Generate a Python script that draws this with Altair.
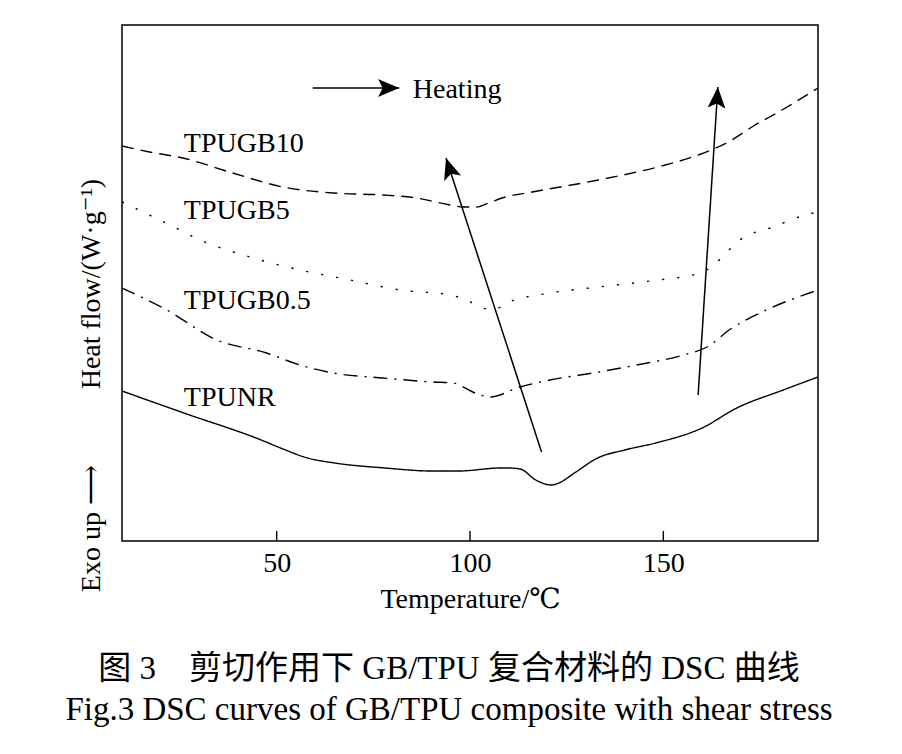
import math
import altair as alt
import pandas as pd

# ---------------- data ----------------
SERIES = ["TPUNR", "TPUGB0.5", "TPUGB5", "TPUGB10"]

T_NR = [10, 26, 46, 51, 58, 65, 78, 90, 97, 108, 110, 113, 117, 121, 123, 127, 133, 140, 148, 160, 169, 181, 190]
H_NR = [150, 128, 101, 93, 83, 78, 73, 70, 70, 73, 73, 72, 61, 56, 58, 68, 83, 91, 98, 113, 133, 151, 164]

T_05 = [10, 21.6, 34.5, 47.4, 56, 64.6, 77.5, 90.4, 95.6, 101.3, 105.2, 112.9, 120.7, 131.8, 143.1, 155.2, 161.3, 167.4, 175, 190]
H_05 = [253, 231, 201, 188, 176, 168, 163, 159, 158, 148, 144, 154, 161, 168, 176, 186, 194, 212, 228, 251]

T_5 = [10, 22.4, 30.2, 43.1, 56, 69, 81.9, 94.8, 99.1, 102.6, 106, 109.5, 120.7, 133.2, 146.5, 159.5, 162.8, 166.4, 169.8, 178.4, 186.7, 190]
H_5 = [339, 316, 301, 284, 271, 261, 251, 246, 241, 234, 231, 238, 248, 254, 260, 268, 275, 289, 301, 314, 326, 329]

T_10 = [10, 17.1, 25.7, 38.6, 51.6, 64.6, 77.5, 86.2, 94.8, 98.2, 101.6, 104.8, 108.3, 116.1, 133.2, 150.5, 159, 167.7, 172.9, 180.7, 190]
H_10 = [395, 389, 383, 368, 354, 348, 346, 343, 336, 334, 334, 338, 343, 349, 361, 376, 386, 401, 414, 431, 453]

LABELS = ["TPUGB10", "TPUGB5", "TPUGB0.5", "TPUNR"]
LABEL_T = [26, 26, 26, 26]
LABEL_H = [389, 322, 232, 135]

ARROW_NAMES = ["heating", "a1", "a2"]
ARROW_T0 = [59.3, 118.5, 159.0]
ARROW_H0 = [453, 89, 146]
ARROW_T1 = [81.7, 93.8, 164.1]
ARROW_H1 = [453, 383, 454]

HEATING_TEXT = "Heating"
HEATING_T = [85.2]
HEATING_H = [443]

X_TICKS = [50, 100, 150]
X_DOMAIN = [10, 190]
Y_DOMAIN = [0, 516]

X_TITLE = "Temperature/\u2103"
Y_TITLE = "Exo up \u27f6\u2003\u2003\u2002\u2009Heat flow/(W\u00b7g\u207b\u00b9)"
CAPTION_CN = "图 3\u3000剪切作用下 GB/TPU 复合材料的 DSC 曲线"
CAPTION_EN = "Fig.3 DSC curves of GB/TPU composite with shear stress"

# ---------------- layout / style ----------------
W, H = 696, 516
FONT = "Liberation Serif, Times New Roman, DejaVu Serif, Noto Sans CJK SC"
DASHES = [[1, 0], [14, 7, 2, 7], [2.2, 13], [12, 7]]
WIDTHS = [1.4, 1.4, 2.2, 1.4]

curves = pd.concat([
    pd.DataFrame({"series": s, "T": t, "H": h})
    for s, t, h in zip(SERIES, [T_NR, T_05, T_5, T_10], [H_NR, H_05, H_5, H_10])
])

kx = W / (X_DOMAIN[1] - X_DOMAIN[0])
ky = H / (Y_DOMAIN[1] - Y_DOMAIN[0])
angles = []
for t0, h0, t1, h1 in zip(ARROW_T0, ARROW_H0, ARROW_T1, ARROW_H1):
    a = math.degrees(math.atan2((t1 - t0) * kx, (h1 - h0) * ky)) % 360
    angles.append(a)
arrows = pd.DataFrame({"name": ARROW_NAMES, "T0": ARROW_T0, "H0": ARROW_H0,
                       "T1": ARROW_T1, "H1": ARROW_H1, "angle": angles})

xs = alt.Scale(domain=X_DOMAIN, nice=False, zero=False)
ys = alt.Scale(domain=Y_DOMAIN, nice=False, zero=False)

x_axis = alt.Axis(values=X_TICKS, ticks=False, domain=False, grid=False,
                  labelFont=FONT, labelFontSize=28, labelColor="black", labelPadding=8,
                  title=X_TITLE, titleFont=FONT, titleFontSize=28, titleFontWeight="normal",
                  titleColor="black", titlePadding=8)
y_axis = alt.Axis(labels=False, ticks=False, domain=False, grid=False,
                  title=Y_TITLE, titleFont=FONT, titleFontSize=28, titleFontWeight="normal",
                  titleColor="black", titleAngle=270, titleX=-31, titleY=360,
                  titleAlign="center", titleBaseline="middle")

lines = alt.Chart(curves).mark_line(color="black", interpolate="monotone").encode(
    x=alt.X("T:Q", scale=xs, axis=x_axis),
    y=alt.Y("H:Q", scale=ys, axis=y_axis),
    strokeDash=alt.StrokeDash("series:N", scale=alt.Scale(domain=SERIES, range=DASHES), legend=None),
    strokeWidth=alt.StrokeWidth("series:N", scale=alt.Scale(domain=SERIES, range=WIDTHS), legend=None),
    detail="series:N",
)

ticks = alt.Chart(pd.DataFrame({"T": X_TICKS})).mark_rule(color="black", strokeWidth=1.4).encode(
    x=alt.X("T:Q", scale=xs), y=alt.value(H), y2=alt.value(H - 10)
)

labels = alt.Chart(pd.DataFrame({"T": LABEL_T, "H": LABEL_H, "label": LABELS})).mark_text(
    align="left", baseline="alphabetic", font=FONT, fontSize=28, color="black"
).encode(x=alt.X("T:Q", scale=xs), y=alt.Y("H:Q", scale=ys), text="label:N")

heat_text = alt.Chart(pd.DataFrame({"T": HEATING_T, "H": HEATING_H, "label": [HEATING_TEXT]})).mark_text(
    align="left", baseline="alphabetic", font=FONT, fontSize=28, color="black"
).encode(x=alt.X("T:Q", scale=xs), y=alt.Y("H:Q", scale=ys), text="label:N")

shafts = alt.Chart(arrows).mark_rule(color="black", strokeWidth=1.5).encode(
    x=alt.X("T0:Q", scale=xs), y=alt.Y("H0:Q", scale=ys), x2="T1:Q", y2="H1:Q"
)
heads = alt.Chart(arrows).mark_point(
    shape="M0,0 L0.42,1 L0,0.78 L-0.42,1 Z", filled=True, color="black", opacity=1, size=1800
).encode(x=alt.X("T1:Q", scale=xs), y=alt.Y("H1:Q", scale=ys), angle=alt.Angle("angle:Q", scale=None))

cap1 = alt.Chart(pd.DataFrame({"label": [CAPTION_CN]})).mark_text(
    align="center", baseline="alphabetic", font=FONT, fontSize=33, color="black"
).encode(x=alt.value(327), y=alt.value(654), text="label:N")
cap2 = alt.Chart(pd.DataFrame({"label": [CAPTION_EN]})).mark_text(
    align="center", baseline="alphabetic", font=FONT, fontSize=33, color="black"
).encode(x=alt.value(327), y=alt.value(695), text="label:N")

chart = alt.layer(lines, ticks, labels, heat_text, shafts, heads, cap1, cap2).properties(
    width=W, height=H,
    autosize=alt.AutoSizeParams(type="none"),
    padding={"left": 122, "top": 25, "right": 84, "bottom": 213},
    background="white",
).configure_view(stroke="black", strokeWidth=1.5)

chart.save("out.html", embed_options={"renderer": "svg", "actions": False})
